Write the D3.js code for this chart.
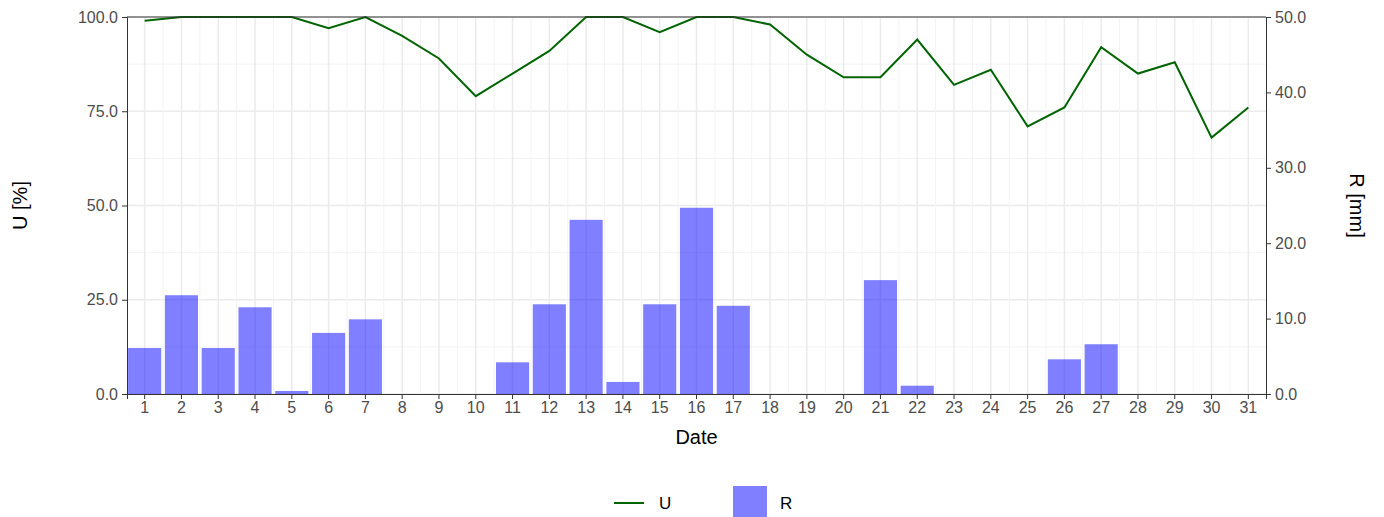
<!DOCTYPE html>
<html><head><meta charset="utf-8">
<script src="https://cdn.jsdelivr.net/npm/d3@7"></script>
<style>body{margin:0;background:#fff;font-family:"Liberation Sans",Arial,sans-serif}</style>
</head><body><div id="chart"></div>
<script>
const days = d3.range(1, 32);
const humidity = [99,100,100,100,100,97,100,95,89,79,85,91,100,100,96,100,100,98,90,84,84,94,82,86,71,76,92,85,88,68,76];
const rain = [6.1,13.1,6.1,11.5,0.4,8.1,9.9,0,0,0,4.2,11.9,23.1,1.6,11.9,24.7,11.7,0,0,0,15.1,1.1,0,0,0,4.6,6.6,0,0,0,0];
const leftTicks = [0, 25, 50, 75, 100];
const rightTicks = [0, 10, 20, 30, 40, 50];

const W = 1384, H = 517;
const m = { top: 17, right: 118, bottom: 123, left: 127 };
const w = W - m.left - m.right, h = H - m.top - m.bottom;

const svg = d3.select('#chart').append('svg').attr('width', W).attr('height', H);
const g = svg.append('g').attr('transform', `translate(${m.left},${m.top})`);

const x = d3.scaleBand().domain(days).range([0, w]).paddingInner(0.1).paddingOuter(0.03);
const yL = d3.scaleLinear().domain([0, 100]).range([h, 0]);
const yR = d3.scaleLinear().domain([0, 50]).range([h, 0]);
const cx = d => x(d) + x.bandwidth() / 2;
const step = x.step();

// Grid
const grid = g.append('g');
d3.range(12.5, 100, 25).forEach(v => grid.append('line').attr('x1', 0).attr('x2', w)
  .attr('y1', yL(v)).attr('y2', yL(v)).attr('stroke', '#f3f3f3').attr('stroke-width', 1));
leftTicks.forEach(v => grid.append('line').attr('x1', 0).attr('x2', w)
  .attr('y1', yL(v)).attr('y2', yL(v)).attr('stroke', '#ebebeb').attr('stroke-width', 1.5));
days.slice(1).forEach(d => grid.append('line').attr('x1', x(d) - (step - x.bandwidth()) / 2).attr('x2', x(d) - (step - x.bandwidth()) / 2)
  .attr('y1', 0).attr('y2', h).attr('stroke', '#f3f3f3'));
days.forEach(d => grid.append('line').attr('x1', cx(d)).attr('x2', cx(d))
  .attr('y1', 0).attr('y2', h).attr('stroke', '#ebebeb').attr('stroke-width', 1.5));

// Bars
g.selectAll('.bar').data(days).enter().append('rect')
  .attr('x', d => x(d)).attr('width', x.bandwidth())
  .attr('y', (d, i) => yR(rain[i])).attr('height', (d, i) => h - yR(rain[i]))
  .attr('fill', '#0000ff').attr('fill-opacity', 0.5);

// Line
g.append('path').datum(days)
  .attr('d', d3.line().x(d => cx(d)).y((d, i) => yL(humidity[i])))
  .attr('fill', 'none').attr('stroke', '#006400').attr('stroke-width', 2);

// Top border
g.append('line').attr('x1', 0).attr('x2', w).attr('y1', 0).attr('y2', 0).attr('stroke', '#333');

const fmt = d3.format('.1f');
const ax = (sel) => { sel.selectAll('text').attr('fill', '#4d4d4d').style('font-size', '16px'); sel.selectAll('.tick line').attr('stroke', '#333'); };
g.append('g').call(d3.axisLeft(yL).tickValues(leftTicks).tickFormat(fmt).tickSize(5).tickPadding(4))
  .call(ax).call(s => s.select('.domain').attr('stroke', '#333'));
g.append('g').attr('transform', `translate(${w},0)`)
  .call(d3.axisRight(yR).tickValues(rightTicks).tickFormat(fmt).tickSize(5).tickPadding(4))
  .call(ax).call(s => s.select('.domain').attr('stroke', '#333'));
g.append('g').attr('transform', `translate(0,${h})`)
  .call(d3.axisBottom(x).tickSize(5).tickPadding(3))
  .call(ax).call(s => s.select('.domain').attr('stroke', '#333'));

// Titles
g.append('text').attr('x', w / 2).attr('y', h + 50).attr('text-anchor', 'middle')
  .style('font-size', '20px').text('Date');
svg.append('text').attr('transform', `translate(27,${m.top + h / 2}) rotate(-90)`)
  .attr('text-anchor', 'middle').style('font-size', '20px').text('U [%]');
svg.append('text').attr('transform', `translate(1350,${m.top + h / 2}) rotate(90)`)
  .attr('text-anchor', 'middle').style('font-size', '20px').text('R [mm]');

// Legend
const lg = svg.append('g').attr('transform', 'translate(0,503)');
lg.append('line').attr('x1', 614).attr('x2', 644).attr('y1', 0).attr('y2', 0).attr('stroke', '#006400').attr('stroke-width', 2);
lg.append('text').attr('x', 659).attr('y', 6).style('font-size', '17px').text('U');
lg.append('rect').attr('x', 733).attr('y', -17).attr('width', 34).attr('height', 34).attr('fill', '#0000ff').attr('fill-opacity', 0.5);
lg.append('text').attr('x', 780).attr('y', 6).style('font-size', '17px').text('R');
</script></body></html>
